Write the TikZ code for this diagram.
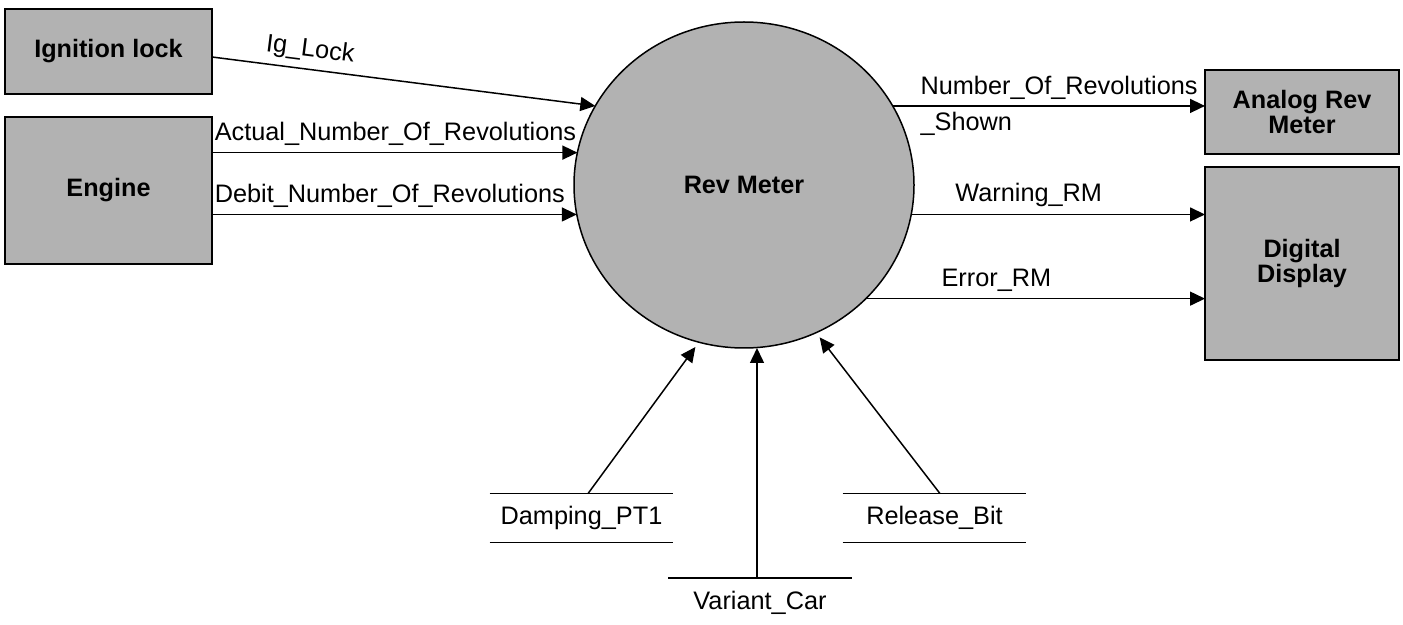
\documentclass[tikz,border=0pt]{standalone}
\usepackage{fontspec}
\setmainfont{Liberation Sans}
\usetikzlibrary{arrows.meta,positioning,shapes.geometric}
\definecolor{boxgray}{RGB}{178,178,178}

\begin{document}
\begin{tikzpicture}[
    x=0.5pt,y=0.5pt,
    node distance=6.5pt,
    ext/.style={draw=black,fill=boxgray,line width=0.75pt,outer sep=0pt,
      align=center,minimum width=103.5pt,font=\bfseries\fontsize{12.6}{12.6}\selectfont},
    proc/.style={ellipse,draw=black,fill=boxgray,line width=0.75pt,outer sep=0pt,
      minimum width=170pt,minimum height=163pt,font=\bfseries\fontsize{12.6}{12.6}\selectfont},
    store/.style={minimum width=91.5pt,minimum height=24pt,inner sep=0pt,
      font=\fontsize{12.65}{18}\selectfont},
    flow/.style={-{Triangle[length=7.5pt,width=7pt]},draw=black,line width=0.75pt},
    lbl/.style={font=\fontsize{12.65}{18}\selectfont}
  ]
    \useasboundingbox (0,0) rectangle (1403,-625);

    % terminators and the process
    \node[ext,minimum height=42.5pt] (ign) at (108.5,-51.5) {Ignition lock};
    \node[ext,minimum height=73.5pt,below=11.5pt of ign] (eng) {Engine};
    \node[proc] (rev) at (744,-185) {Rev Meter};
    \node[ext,minimum width=97pt,minimum height=42pt] (ana) at (1302,-112) {Analog Rev\\Meter};
    \node[ext,minimum width=97pt,minimum height=96.5pt,below=of ana] (dig) {Digital\\Display};

    % data stores
    \node[store] (damp) at (581.5,-518) {Damping\_PT1};
    \node[store] (rel) at (934.5,-518) {Release\_Bit};
    \node[store] (var) at (760,-602.5) {Variant\_Car};
    \foreach \s in {damp,rel}
      \draw[line width=0.75pt] (\s.north west) -- (\s.north east)
        (\s.south west) -- (\s.south east);
    \draw[line width=0.75pt] (var.north west) -- (var.north east);

    % inputs
    \draw[flow] ([yshift=-2.75pt]ign.east) -- (rev.152.4)
      node[lbl,pos=0.25,sloped,above] {Ig\_Lock};
    \draw[flow] (eng.east |- rev.169.5) -- (rev.169.5)
      node[lbl,pos=0,above right,inner xsep=1pt] {Actual\_Number\_Of\_Revolutions};
    \draw[flow] (eng.east |- rev.190.5) -- (rev.190.5)
      node[lbl,pos=0,above right,inner xsep=1pt] {Debit\_Number\_Of\_Revolutions};
    \draw[flow,shorten >=3pt] ([xshift=3.25pt]damp.north) -- (rev.254);
    \draw[flow,shorten >=3pt] ([xshift=2.75pt]rel.north) -- (rev.-64);
    \coordinate (vin) at ([xshift=-1.5pt]var.north);
    \draw[flow] (vin) -- (vin |- rev.south);

    % outputs
    \draw[flow] (rev.28) -- (rev.28 -| ana.west)
      node[lbl,pos=1,left,align=left] {Number\_Of\_Revolutions\\\_Shown};
    \draw[flow] (rev.-10.2) -- (rev.-10.2 -| dig.west)
      node[lbl,pos=0.4,above] {Warning\_RM};
    \draw[flow] (rev.-43.2) -- (rev.-43.2 -| dig.west)
      node[lbl,pos=0.385,above] {Error\_RM};
\end{tikzpicture}
\end{document}
